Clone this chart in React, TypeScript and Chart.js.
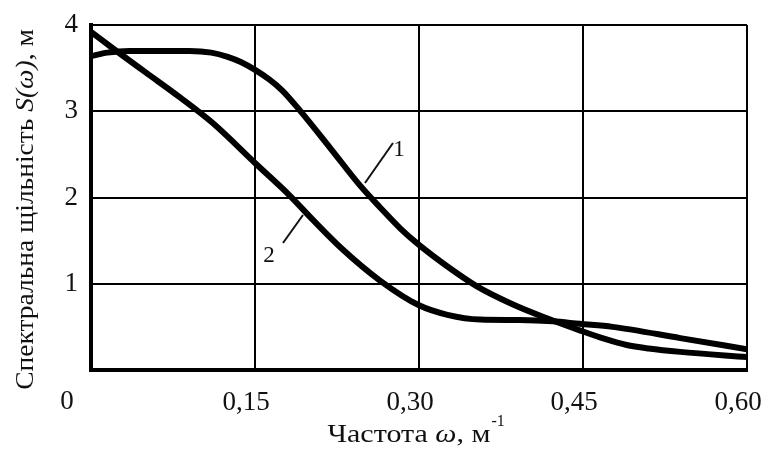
import React, { useEffect, useRef } from "react";
import { Chart, registerables } from "chart.js";

Chart.register(...registerables);

// Curve 1
const omega1 = [0, 0.015, 0.035, 0.06, 0.09, 0.11, 0.125, 0.137, 0.15, 0.163, 0.175, 0.191, 0.219, 0.246, 0.264, 0.283, 0.3, 0.326, 0.353, 0.386, 0.417, 0.447, 0.47, 0.49, 0.51, 0.539, 0.6];
const s1 = [3.64, 3.68, 3.7, 3.7, 3.7, 3.68, 3.63, 3.57, 3.48, 3.37, 3.24, 3.01, 2.57, 2.14, 1.89, 1.64, 1.45, 1.2, 0.97, 0.76, 0.6, 0.46, 0.36, 0.29, 0.25, 0.21, 0.15];

// Curve 2
const omega2 = [0, 0.022, 0.05, 0.0814, 0.1116, 0.15, 0.182, 0.203, 0.23, 0.264, 0.3, 0.326, 0.356, 0.392, 0.4225, 0.447, 0.477, 0.539, 0.6];
const s2 = [3.92, 3.71, 3.45, 3.16, 2.86, 2.4, 2.02, 1.74, 1.4, 1.04, 0.75, 0.64, 0.585, 0.58, 0.565, 0.535, 0.5, 0.37, 0.24];

// Leader lines for labels (data coordinates)
const leader1 = [{ x: 0.2506, y: 2.168 }, { x: 0.2762, y: 2.632 }];
const leader2 = [{ x: 0.1756, y: 1.472 }, { x: 0.1939, y: 1.797 }];
const labelPos1 = { x: 0.2817, y: 2.55, text: "1" };
const labelPos2 = { x: 0.1628, y: 1.32, text: "2" };

const xTicks = [0, 0.15, 0.3, 0.45, 0.6];
const yTicks = [0, 1, 2, 3, 4];

const SERIF = '"Liberation Serif", "Times New Roman", serif';

type Seg = { t: string; it?: boolean };

function drawSegs(ctx: CanvasRenderingContext2D, segs: Seg[], size: number, cx: number, cy: number, sx: number) {
  let w = 0;
  const widths = segs.map((s) => {
    ctx.font = `${s.it ? "italic " : ""}${size}px ${SERIF}`;
    const m = ctx.measureText(s.t).width;
    w += m;
    return m;
  });
  ctx.save();
  ctx.translate(cx, cy);
  ctx.scale(sx, 1);
  let x = -w / 2;
  ctx.textAlign = "left";
  segs.forEach((s, i) => {
    ctx.font = `${s.it ? "italic " : ""}${size}px ${SERIF}`;
    ctx.fillText(s.t, x, 0);
    x += widths[i];
  });
  ctx.restore();
  return { left: cx - (w * sx) / 2, right: cx + (w * sx) / 2 };
}

const textPlugin = {
  id: "customTexts",
  afterDraw(chart: any) {
    const ctx: CanvasRenderingContext2D = chart.ctx;
    const xs = chart.scales.x;
    const ys = chart.scales.y;
    const area = chart.chartArea;
    ctx.save();
    ctx.fillStyle = "#111";

    // "0" label at the origin, shifted left
    ctx.font = `27px ${SERIF}`;
    ctx.textAlign = "center";
    ctx.textBaseline = "middle";
    ctx.fillText("0", xs.getPixelForValue(0) - 24, area.bottom + 32);

    // Curve labels
    ctx.font = `23px ${SERIF}`;
    [labelPos1, labelPos2].forEach((p) => {
      ctx.fillText(p.text, xs.getPixelForValue(p.x), ys.getPixelForValue(p.y));
    });

    // Y title (rotated)
    ctx.save();
    ctx.translate(26, (area.top + area.bottom) / 2 + 12);
    ctx.rotate(-Math.PI / 2);
    ctx.textBaseline = "middle";
    drawSegs(ctx, [{ t: "Спектральна щільність " }, { t: "S(ω)", it: true }, { t: ", м" }], 25, 0, 0, 1.1);
    ctx.restore();

    // X title
    ctx.textBaseline = "alphabetic";
    const cx = (area.left + area.right) / 2 - 10;
    const r = drawSegs(ctx, [{ t: "Частота " }, { t: "ω", it: true }, { t: ", м" }], 25, cx, 442, 1.2);
    ctx.font = `16px ${SERIF}`;
    ctx.textAlign = "left";
    ctx.fillText("-1", r.right + 1, 426);

    ctx.restore();
  },
};

export default function App() {
  const ref = useRef<HTMLCanvasElement>(null);
  useEffect(() => {
    if (!ref.current) return;
    const chart = new Chart(ref.current, {
      type: "line",
      data: {
        datasets: [
          {
            data: omega1.map((x, i) => ({ x, y: s1[i] })),
            borderColor: "#000",
            borderWidth: 6,
            pointRadius: 0,
            cubicInterpolationMode: "monotone",
            borderCapStyle: "round",
          },
          {
            data: omega2.map((x, i) => ({ x, y: s2[i] })),
            borderColor: "#000",
            borderWidth: 6,
            pointRadius: 0,
            cubicInterpolationMode: "monotone",
            borderCapStyle: "round",
          },
          {
            data: leader1,
            borderColor: "#111",
            borderWidth: 2,
            pointRadius: 0,
          },
          {
            data: leader2,
            borderColor: "#111",
            borderWidth: 2,
            pointRadius: 0,
          },
        ],
      },
      options: {
        responsive: false,
        animation: false,
        layout: { padding: { top: 25, right: 21, left: 0, bottom: 0 } },
        plugins: { legend: { display: false }, tooltip: { enabled: false } },
        scales: {
          x: {
            type: "linear",
            min: 0,
            max: 0.6,
            afterBuildTicks: (s: any) => {
              s.ticks = xTicks.map((v) => ({ value: v }));
            },
            afterFit: (s: any) => {
              s.height = 80;
              s.paddingLeft = 0;
              s.paddingRight = 0;
            },
            ticks: {
              color: "#111",
              font: { family: SERIF, size: 27 },
              padding: 17,
              labelOffset: -9,
              maxRotation: 0,
              autoSkip: false,
              callback: (v: any) => (v === 0 ? "" : Number(v).toFixed(2).replace(".", ",")),
            },
            grid: { color: "#000", lineWidth: 2, drawTicks: false },
            border: { color: "#000", width: 4 },
          },
          y: {
            type: "linear",
            min: 0,
            max: 4,
            afterBuildTicks: (s: any) => {
              s.ticks = yTicks.map((v) => ({ value: v }));
            },
            afterFit: (s: any) => {
              s.width = 91;
              s.paddingTop = 0;
              s.paddingBottom = 0;
            },
            ticks: {
              color: "#111",
              font: { family: SERIF, size: 27 },
              padding: 13,
              callback: (v: any) => (v === 0 ? "" : String(v)),
            },
            grid: { color: "#000", lineWidth: 2, drawTicks: false },
            border: { color: "#000", width: 4 },
          },
        },
      },
      plugins: [textPlugin],
    } as any);
    return () => chart.destroy();
  }, []);
  return (
    <div style={{ position: "absolute", left: 0, top: 0, width: 768, height: 450, background: "#fff" }}>
      <canvas ref={ref} width={768} height={450} style={{ width: 768, height: 450 }} />
    </div>
  );
}
